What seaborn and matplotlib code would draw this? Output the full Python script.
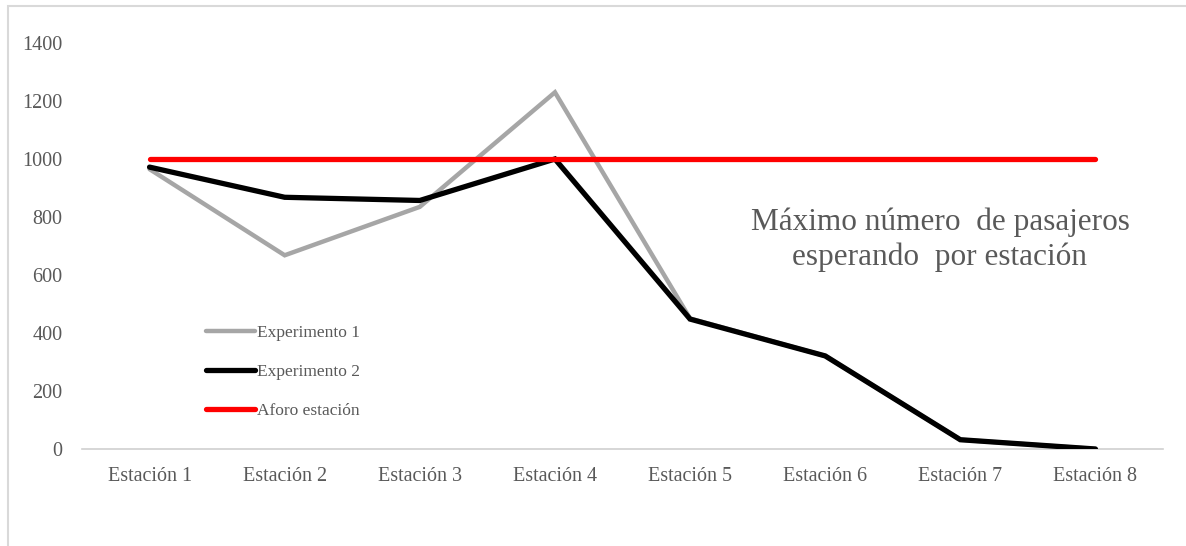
import matplotlib
matplotlib.use("Agg")
import matplotlib.pyplot as plt
from matplotlib.patches import Rectangle
import seaborn as sns
import pandas as pd

estaciones = ["Estación 1", "Estación 2", "Estación 3", "Estación 4",
              "Estación 5", "Estación 6", "Estación 7", "Estación 8"]
experimento_1 = [965, 668, 835, 1230, 450, 321, 32, 0]
experimento_2 = [972, 868, 857, 1000, 448, 321, 32, 0]
aforo = [1000, 1000, 1000, 1000, 1000, 1000, 1000, 1000]
series_names = ["Experimento 1", "Experimento 2", "Aforo estación"]
y_ticks = [0, 200, 400, 600, 800, 1000, 1200, 1400]

rows = []
for name, vals in zip(series_names, [experimento_1, experimento_2, aforo]):
    for i, (est, v) in enumerate(zip(estaciones, vals)):
        rows.append({"pos": i, "Estación": est, "Pasajeros": v, "Serie": name})
df = pd.DataFrame(rows)

sns.set_theme(style="white")
plt.rcParams["font.family"] = ["Liberation Serif", "DejaVu Serif"]
text_color = "#595959"

W, H = 1186, 546
fig = plt.figure(figsize=(W / 100, H / 100), dpi=100)
fig.patch.set_facecolor("white")
ax = fig.add_axes([82 / W, (H - 449) / H, (1163 - 82) / W, (449 - 43) / H])

palette = {"Experimento 1": "#a6a6a6", "Experimento 2": "#000000", "Aforo estación": "#ff0000"}
widths = {"Experimento 1": 3.2, "Experimento 2": 3.8, "Aforo estación": 3.8}
for name in series_names:
    sub = df[df["Serie"] == name]
    sns.lineplot(data=sub, x="pos", y="Pasajeros", color=palette[name],
                 linewidth=widths[name], ax=ax, label=name,
                 solid_capstyle="round", solid_joinstyle="miter")

ax.set_xlim(-0.5, len(estaciones) - 0.5)
ax.set_ylim(0, 1400)
ax.set_yticks(y_ticks)
ax.set_yticklabels([str(t) for t in y_ticks], color=text_color, fontsize=14.5)
ax.set_xticks(range(len(estaciones)))
ax.set_xticklabels(estaciones, color=text_color, fontsize=14.5)
ax.tick_params(axis="x", length=0, pad=13)
ax.tick_params(axis="y", length=0, pad=14)
ax.set_xlabel("")
ax.set_ylabel("")
for side in ["top", "right", "left"]:
    ax.spines[side].set_visible(False)
ax.spines["bottom"].set_color("#d0d0d0")
ax.spines["bottom"].set_linewidth(1.2)
ax.spines["bottom"].set_zorder(0)

leg = ax.legend(loc="upper left", bbox_to_anchor=((206 - 82) / 1081, (449 - 325) / 406),
                frameon=False, fontsize=12.5, handlelength=2.8, handletextpad=0.15,
                labelspacing=1.3, borderpad=0, borderaxespad=0)
for t in leg.get_texts():
    t.set_color(text_color)

ax.text((940 - 82) / 1081, (449 - 240) / 406,
        "Máximo número  de pasajeros\nesperando  por estación",
        transform=ax.transAxes, ha="center", va="center",
        fontsize=22.5, color=text_color, linespacing=1.25)

# light frame around the chart area
fig.patches.append(Rectangle((8 / W, -0.1), 1.2, (H - 6) / H + 0.1,
                             transform=fig.transFigure, fill=False,
                             edgecolor="#d9d9d9", linewidth=1.5))

fig.savefig("out.png", dpi=100, facecolor="white")
